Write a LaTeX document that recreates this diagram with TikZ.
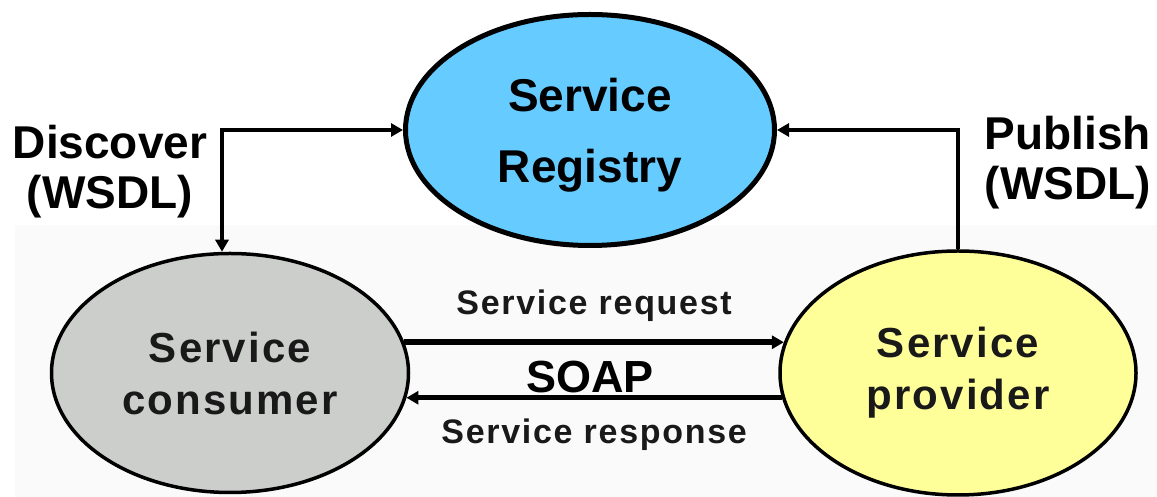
\documentclass[tikz,border=0pt]{standalone}
\usepackage{fontspec}
\setmainfont{Liberation Sans}
\newfontfamily\widesans[LetterSpace=5]{Liberation Sans}
\usetikzlibrary{arrows.meta,shapes.geometric}

\definecolor{registryblue}{RGB}{102,204,255}
\definecolor{consumergrey}{RGB}{204,206,204}
\definecolor{provideryellow}{RGB}{255,255,153}
\definecolor{backwhite}{RGB}{249,250,249}

\begin{document}
\begin{tikzpicture}[ x = 1pt, y = 1pt,
	> = { Triangle[ length = 12pt, width = 13pt ] },
	party/.style = { ellipse, draw, line width = 3.5pt, inner sep = 0pt,
		align = center, text = black!90,
		font = \widesans\fontsize{42}{52}\selectfont\bfseries },
	bigtext/.style = { align = center,
		font = \fontsize{46}{50}\selectfont\bfseries },
	smalltext/.style = { inner sep = 0pt, text = black!90,
		font = \widesans\fontsize{34}{37}\selectfont\bfseries },
	link/.style = { line width = 4.5pt } ]
	\useasboundingbox (0,0) rectangle (1157,497);
	% pale band behind the lower half
	\fill [ backwhite ] (15,0) rectangle (1157,272);

	\node [ party, fill = registryblue, line width = 5pt, text = black,
		minimum width = 369pt, minimum height = 231pt, text depth = 0pt,
		font = \fontsize{46}{71}\selectfont\bfseries ] (1) at (590,367)
		{ Service \\ Registry };
	\node [ party, fill = consumergrey,
		minimum width = 357pt, minimum height = 239pt ] (2) at (230,124)
		{ Service \\ consumer };
	\node [ party, fill = provideryellow,
		minimum width = 356pt, minimum height = 244pt ] (3) at (958,124)
		{ Service \\ provider };

	\node [ bigtext ] (4) at (110,325)
		{ Discover \\ (WSDL) };
	\node [ bigtext ] (5) at (1068,334)
		{ Publish \\ (WSDL) };
	\node [ font = \fontsize{45}{50}\selectfont\bfseries ] (6) at (590,120)
		{ SOAP };

	\draw [ link, <-> ] ([xshift=-8pt]2.north) |- (1.west);
	\draw [ link, -> ] (3.north) |- (1.east);
	\draw [ line width = 6pt, -> ] (2.10) -- (2.10 -| 3.170)
		node [ midway, above = 18pt, smalltext ] { Service request };
	\draw [ line width = 5pt, -> ] (3.188) -- (3.188 -| 2.-8)
		node [ midway, below = 19pt, smalltext ] { Service response };
\end{tikzpicture}
\end{document}
